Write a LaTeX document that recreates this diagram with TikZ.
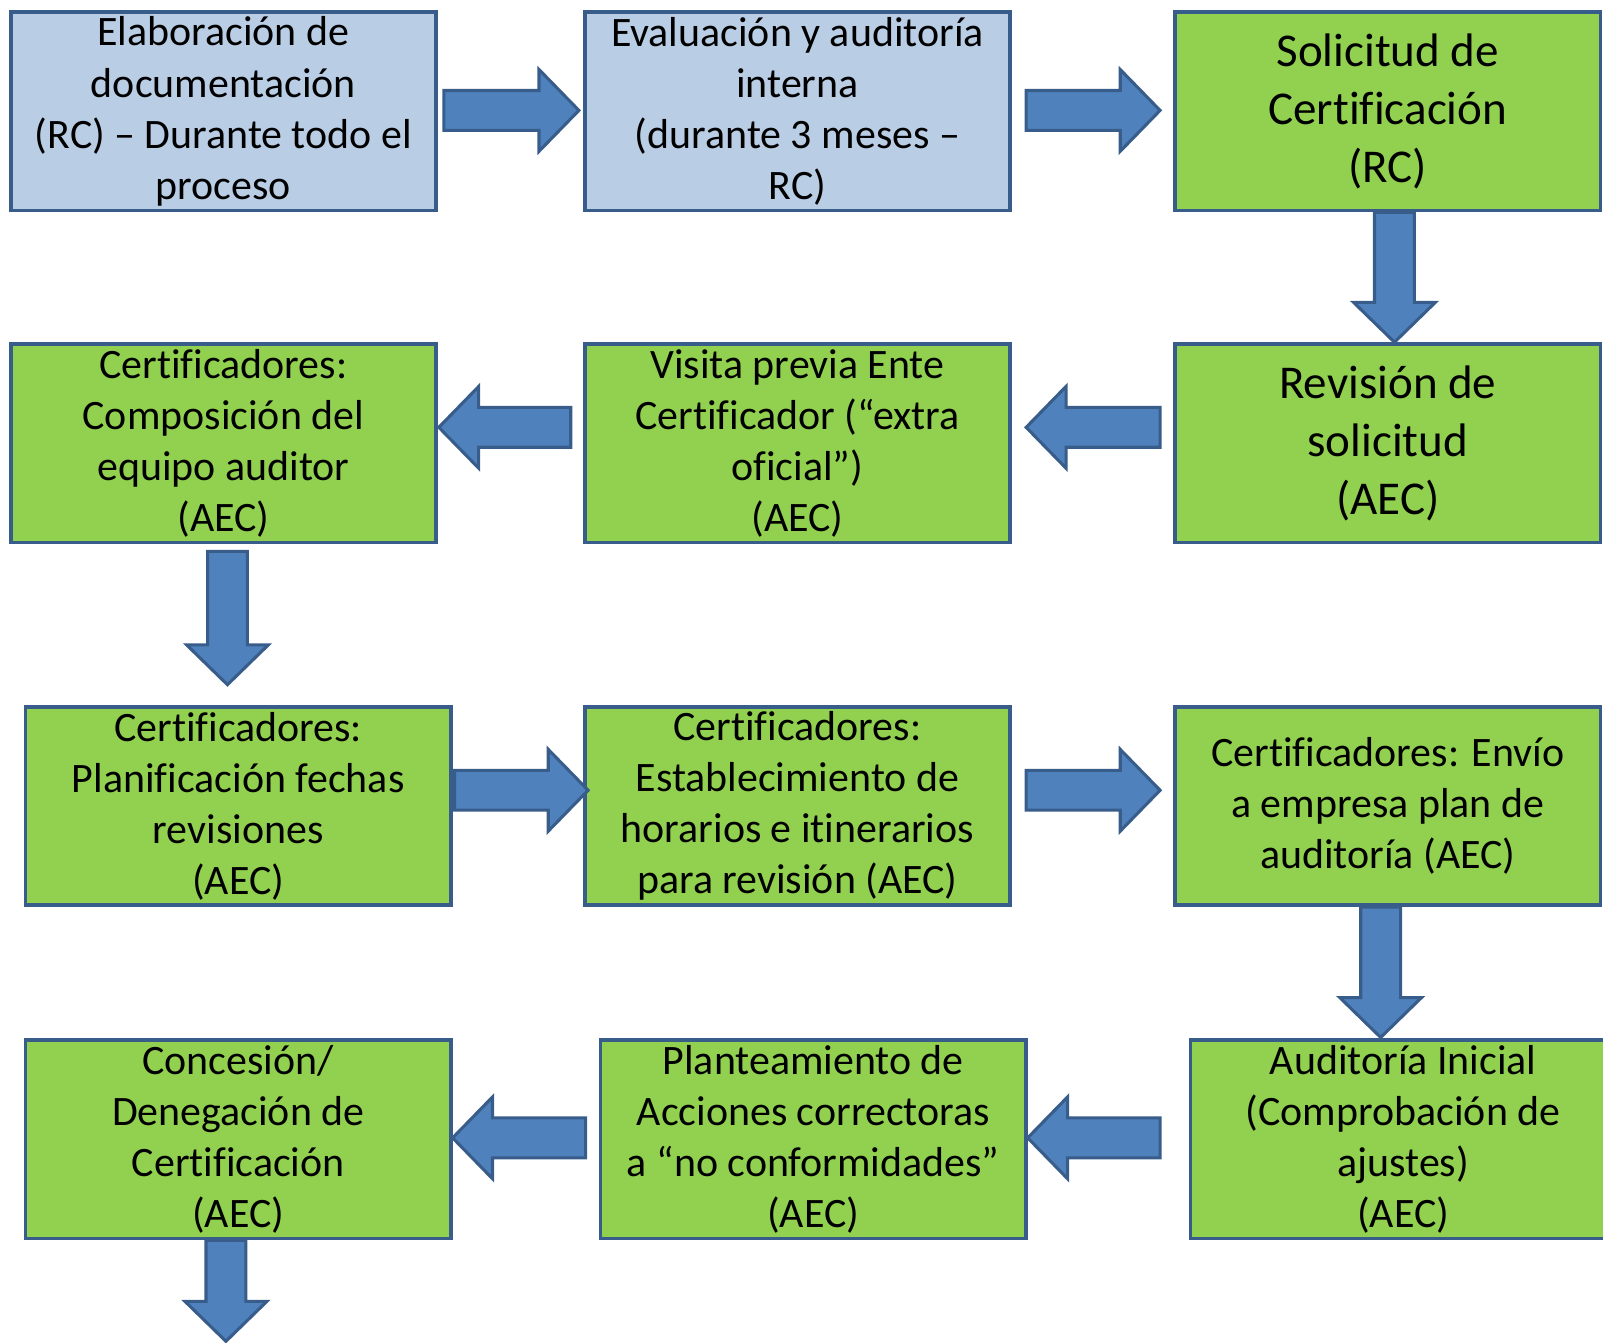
\documentclass[tikz,border=0pt]{standalone}
\usepackage{fontspec}
\setmainfont{Carlito}[Ligatures=CommonOff]
\usetikzlibrary{calc}
\definecolor{boxborder}{HTML}{385D8A}
\definecolor{lightblue}{HTML}{B9CDE5}
\definecolor{lgreen}{HTML}{92D050}
\definecolor{arrowfill}{HTML}{4F81BD}
\tikzset{
  basebox/.style={draw=boxborder, line width=1.75pt, rectangle, minimum width=208pt, minimum height=97pt, inner sep=0pt, align=center, text=black, font=\fontsize{20.5}{25}\selectfont},
  bluebox/.style={basebox, fill=lightblue},
  greenbox/.style={basebox, fill=lgreen},
  bigtext/.style={font=\fontsize{23}{28.25}\selectfont},
  barrow/.style={draw=boxborder, fill=arrowfill, line width=1.5pt, line join=miter}
}
\newcommand\hblock[2]{\draw[barrow] let \p1=#1, \p2=#2, \n1={sign(\x2-\x1)} in
  (\x1,\y1+9.75pt) -- ({\x2-\n1*19.5pt},\y1+9.75pt) -- ({\x2-\n1*19.5pt},\y1+20pt) -- (\x2,\y1)
  -- ({\x2-\n1*19.5pt},\y1-20pt) -- ({\x2-\n1*19.5pt},\y1-9.75pt) -- (\x1,\y1-9.75pt) -- cycle;}
\newcommand\vblock[2]{\draw[barrow] let \p1=#1, \p2=#2, \n1={sign(\y2-\y1)} in
  (\x1-9.75pt,\y1) -- (\x1-9.75pt,{\y2-\n1*19.5pt}) -- (\x1-20pt,{\y2-\n1*19.5pt}) -- (\x1,\y2)
  -- (\x1+20pt,{\y2-\n1*19.5pt}) -- (\x1+9.75pt,{\y2-\n1*19.5pt}) -- (\x1+9.75pt,\y1) -- cycle;}
\begin{document}
\begin{tikzpicture}[x=0.5pt,y=-0.5pt]
\useasboundingbox (0,0) rectangle (1568,1312.7);
% row 1
\node[bluebox] (b1) at (218.5,109) {Elaboración de\\documentación\\(RC) – Durante todo el\\proceso};
\node[bluebox] (b2) at (780,109) {Evaluación y auditoría\\interna\\(durante 3 meses –\\RC)};
\node[greenbox,bigtext] (b3) at (1357.5,109) {Solicitud de\\Certificación\\(RC)};
% row 2
\node[greenbox] (b4) at (218.5,433.5) {Certificadores:\\Composición del\\equipo auditor\\(AEC)};
\node[greenbox] (b5) at (780,433.5) {Visita previa Ente\\Certificador (“extra\\oficial”)\\(AEC)};
\node[greenbox,bigtext] (b6) at (1357.5,433.5) {Revisión de\\solicitud\\(AEC)};
% row 3
\node[greenbox] (b7) at (233,788.5) {Certificadores:\\Planificación fechas\\revisiones\\(AEC)};
\node[greenbox] (b8) at (780,788.5) {Certificadores:\\Establecimiento de\\horarios e itinerarios\\para revisión (AEC)};
\node[greenbox] (b9) at (1357.5,788.5) {Certificadores: Envío\\a empresa plan de\\auditoría (AEC)};
% row 4
\node[greenbox] (b10) at (233,1114.5) {Concesión/\\Denegación de\\Certificación\\(AEC)};
\node[greenbox] (b11) at (795.5,1114.5) {Planteamiento de\\Acciones correctoras\\a “no conformidades”\\(AEC)};
\node[greenbox] (b12) at (1372.5,1114.5) {Auditoría Inicial\\(Comprobación de\\ajustes)\\(AEC)};
\coordinate (e12) at (221,1312);
% arrows
\hblock{($(b1.east)+(6,-1)$)}{($(b2.west)+(-4,-1)$)}
\hblock{($(b2.east)+(14,-1)$)}{($(b3.west)+(-13,-1)$)}
\vblock{($(b3.south)+(6.5,0)$)}{($(b6.north)+(6.5,0)$)}
\hblock{($(b6.west)+(-13,-15.5)$)}{($(b5.east)+(14,-15.5)$)}
\hblock{($(b5.west)+(-12,-15.5)$)}{($(b4.east)+(1,-15.5)$)}
\vblock{($(b4.south)+(4,7)$)}{($(b7.north)+(-11,-20)$)}
\hblock{($(b7.east)+(2,-15.5)$)}{($(b8.west)+(5,-15.5)$)}
\hblock{($(b8.east)+(14,-15.5)$)}{($(b9.west)+(-13,-15.5)$)}
\vblock{($(b9.south)+(-7,0)$)}{($(b12.north)+(-22.5,-1)$)}
\hblock{($(b12.west)+(-28,-1.5)$)}{($(b11.east)+(0,-1.5)$)}
\hblock{($(b11.west)+(-13,-1.5)$)}{($(b10.east)+(0,-1.5)$)}
\vblock{($(b10.south)+(-12,0)$)}{(e12)}
\end{tikzpicture}
\end{document}
